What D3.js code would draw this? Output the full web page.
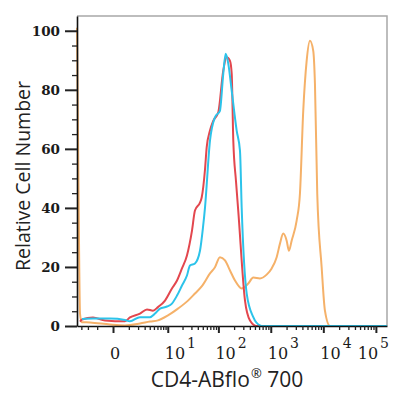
<!DOCTYPE html>
<html>
<head>
<meta charset="utf-8">
<script src="https://cdn.jsdelivr.net/npm/d3@7"></script>
<style>
  html, body { margin: 0; padding: 0; background: #fff; }
  svg { display: block; }
</style>
</head>
<body>
<svg id="chart" width="400" height="400"></svg>
<script>
// ---- data (x = fluorescence, y = relative count) ----
const redSeries = [
  [-3.24, 1.5], [-2.88, 2.2], [-1.4, 2.9], [-0.42, 1.9], [0.69, 1.6], [1.1, 2.9],
  [2.26, 4.2], [3.43, 5.6], [4.76, 5.2], [6.17, 6.4], [8.75, 8.6], [12.2, 12.7],
  [15.5, 15.4], [19.5, 19.5], [24.5, 23.9], [30.8, 32.3], [35.2, 39.1], [44.1, 41.8],
  [47.6, 43.5], [55.2, 53], [59.5, 60.5], [68.9, 66.2], [79.7, 69.5], [99.5, 72.4],
  [124, 86.5], [144, 91.0], [167, 89.8], [180, 85.4], [193, 62.8], [217, 49.2],
  [240, 39.1], [323, 8.6], [402, 1.9], [539, 0], [162700, 0]
];
const cyanSeries = [
  [-2.88, 2.4], [-1.4, 2.5], [-0.14, 2.5], [0.69, 2.0], [1.1, 1.6], [2.26, 3.0],
  [4.05, 3.0], [5.29, 4.2], [6.83, 5.9], [9.63, 6.6], [12.2, 7.6], [15.5, 10.3],
  [19.5, 13.7], [24.5, 17.1], [28.1, 20.5], [35.2, 21.2], [44.1, 25.5], [50.4, 33.3],
  [55.2, 40.1], [68.9, 62.8], [86, 70.7], [107, 72.9], [124, 85.4], [138, 92.2],
  [155, 88.8], [180, 79.7], [224, 66.2], [259, 59.4], [279, 40.2], [348, 11.0],
  [465, 3.0], [623, 0.2], [700, 0], [162700, 0]
];
const orangeSeries = [
  [-3.84, 101], [-3.55, 50], [-3.24, 4.2], [-2.94, 1.3], [-1.74, 1.2], [-0.14, 0.5],
  [0.69, 0.2], [2.26, 0.85], [4.05, 1.5], [6.17, 1.9], [10.1, 3.6], [16.2, 5.9],
  [25.7, 8.6], [35.2, 11.0], [47.6, 13.4], [68.9, 17.8], [86, 19.9], [107, 23.3],
  [134, 22.2], [167, 18.8], [208, 15.4], [279, 12.7], [373, 14.4], [465, 16.4],
  [623, 16.1], [836, 17.4], [1041, 19.5], [1296, 23.3], [1497, 27.9], [1730, 31.3],
  [2008, 28.9], [2220, 25.5], [2499, 28.9], [3111, 35.7], [3592, 44.8], [4152, 72.9],
  [4820, 89.8], [5570, 96.6], [6435, 93.2], [6931, 82.1], [7668, 44.8], [9300, 19.9],
  [10740, 5.2], [13370, 0], [162700, 0]
];

const xMajorTicks = [0, 10, 100, 1000, 10000, 100000];
const xTickBase = ["0", "10", "10", "10", "10", "10"];
const xTickExp = ["", "1", "2", "3", "4", "5"];
const xMinorSteps = [2, 3, 4, 5, 6, 7, 8, 9];
const yMajorTicks = [0, 20, 40, 60, 80, 100];

const xTitle = "CD4-ABflo";
const xTitleSuffix = " 700";
const yTitle = "Relative Cell Number";

// ---- layout ----
const W = 400, H = 400;
const M = { left: 77, right: 13, top: 16, bottom: 74 };
const svg = d3.select("#chart");

const x = d3.scaleSymlog().constant(1)
  .domain([-3.84, 162700])
  .range([M.left, W - M.right]);
const y = d3.scaleLinear()
  .domain([0, 105])
  .range([H - M.bottom, M.top]);

// minor ticks: -3..-1, then 1..9 and k*10^n in each decade
const xMinorTicks = [-3, -2, -1, 1];
[1, 10, 100, 1000, 10000].forEach(d => xMinorSteps.forEach(s => xMinorTicks.push(s * d)));
const yMinorTicks = d3.range(5, 105, 5).filter(v => v % 20 !== 0);

// frame (top + right, grey)
svg.append("path")
  .attr("d", `M${M.left},${M.top}H${W - M.right}V${H - M.bottom}`)
  .attr("fill", "none")
  .attr("stroke", "#a8a8a8")
  .attr("stroke-width", 1.5);

// ---- curves ----
const line = d3.line()
  .x(d => x(d[0]))
  .y(d => y(d[1]))
  .curve(d3.curveMonotoneX);

const series = [
  { data: orangeSeries, color: "#f5b169" },
  { data: redSeries, color: "#e3474e" },
  { data: cyanSeries, color: "#2cc3ea" }
];
svg.append("g")
  .selectAll("path")
  .data(series)
  .join("path")
  .attr("d", s => line(s.data))
  .attr("fill", "none")
  .attr("stroke", s => s.color)
  .attr("stroke-width", 2)
  .attr("stroke-linejoin", "round");

// ---- axes ----
function styleAxis(g) {
  g.selectAll(".domain").attr("stroke", "#111").attr("stroke-width", 1.6);
  g.selectAll(".tick line").attr("stroke", "#222").attr("stroke-width", 1.3);
}

const xAxisY = H - M.bottom;
svg.append("g")
  .attr("transform", `translate(0,${xAxisY})`)
  .call(d3.axisBottom(x).tickValues(xMinorTicks).tickSize(4).tickSizeOuter(0).tickFormat(""))
  .call(styleAxis);
svg.append("g")
  .attr("transform", `translate(0,${xAxisY})`)
  .call(d3.axisBottom(x).tickValues(xMajorTicks).tickSize(7).tickSizeOuter(0).tickFormat(""))
  .call(g => g.select(".domain").remove())
  .call(styleAxis)
  .call(g => g.selectAll(".tick line").attr("stroke-width", 2));

svg.append("g")
  .attr("transform", `translate(${M.left},0)`)
  .call(d3.axisLeft(y).tickValues(yMinorTicks).tickSize(5).tickSizeOuter(0).tickFormat(""))
  .call(styleAxis);
svg.append("g")
  .attr("transform", `translate(${M.left},0)`)
  .call(d3.axisLeft(y).tickValues(yMajorTicks).tickSize(12).tickSizeOuter(0).tickFormat(""))
  .call(g => g.select(".domain").remove())
  .call(styleAxis)
  .call(g => g.selectAll(".tick line").attr("stroke-width", 2));

// y tick labels
svg.append("g")
  .selectAll("text")
  .data(yMajorTicks)
  .join("text")
  .attr("x", M.left - 17)
  .attr("y", d => y(d))
  .attr("dy", "0.36em")
  .attr("text-anchor", "end")
  .attr("font-family", "DejaVu Serif")
  .attr("font-weight", "bold")
  .attr("font-size", 13.5)
  .attr("fill", "#1a1a1a")
  .text(d => d);

// x tick labels (base + superscript exponent)
const xLabels = svg.append("g")
  .selectAll("text")
  .data(xMajorTicks)
  .join("text")
  .attr("y", xAxisY + 33)
  .attr("font-family", "DejaVu Serif")
  .attr("font-size", 16)
  .attr("fill", "#1a1a1a");
xLabels.append("tspan").text((d, i) => xTickBase[i]);
xLabels.append("tspan")
  .attr("font-size", 14)
  .attr("dx", 2)
  .attr("dy", -11)
  .text((d, i) => xTickExp[i]);
// left-aligned near each tick; keep the last one inside the frame
xLabels.attr("x", function (d) {
  const w = this.getComputedTextLength();
  return Math.min(x(d) - 3, W - M.right - w);
});

// axis titles
const xt = svg.append("text")
  .attr("x", (M.left + W - M.right) / 2 - 5)
  .attr("y", H - 13)
  .attr("text-anchor", "middle")
  .attr("font-family", "Open Sans")
  .attr("font-size", 21)
  .attr("fill", "#222");
xt.append("tspan").text(xTitle);
xt.append("tspan").attr("font-size", 13).attr("dx", 1).attr("dy", -9).text("®");
xt.append("tspan").attr("dy", 9).text(xTitleSuffix);

svg.append("text")
  .attr("transform", `translate(30,${(M.top + H - M.bottom) / 2 + 5}) rotate(-90)`)
  .attr("text-anchor", "middle")
  .attr("font-family", "Open Sans")
  .attr("font-size", 19.5)
  .attr("fill", "#222")
  .text(yTitle);
</script>
</body>
</html>
